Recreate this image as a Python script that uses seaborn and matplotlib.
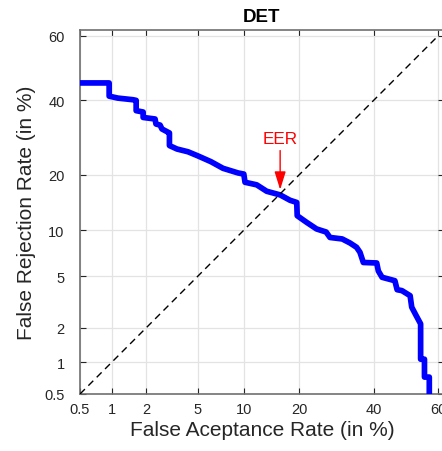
import math
import numpy as np
import pandas as pd
import seaborn as sns
import matplotlib
matplotlib.use('Agg')
import matplotlib.pyplot as plt

# DET curve (percent)
far = [0.5, 0.95, 0.95, 1.14, 1.55, 1.65, 1.65, 1.89, 1.89, 2.37, 2.41, 2.60, 2.69, 3.0,
       3.08, 3.08, 3.52, 4.25, 5.02, 6.17, 7.41, 9.22, 10.0, 10.17, 11.9, 13.56, 16.0, 17.97,
       19.4, 19.5, 21.6, 24.0, 26.4, 27.4, 30.7, 32.9, 34.8, 35.8, 36.8, 40.85, 41.35, 42.5,
       46.5, 47.2, 48.7, 51.3, 51.8, 53.2, 54.6, 54.6, 55.8, 55.8, 57.3, 57.3]
frr = [45.3, 45.3, 41.2, 40.6, 40.1, 39.9, 36.8, 36.4, 34.8, 34.35, 32.9, 32.6, 31.5, 30.6,
       30.4, 27.0, 26.1, 25.4, 24.35, 22.95, 21.4, 20.35, 20.1, 18.33, 17.8, 16.5, 15.8, 14.8,
       14.4, 12.16, 11.14, 10.17, 9.75, 9.03, 8.84, 8.34, 7.83, 7.27, 6.22, 6.17, 5.44, 4.91,
       4.64, 3.99, 3.93, 3.6, 2.94, 2.52, 2.16, 1.07, 1.07, 0.73, 0.73, 0.3]
diag = [0.5, 60]
eer = 16.0
ticks = [0.5, 1, 2, 5, 10, 20, 40, 60]
tick_labels = ['0.5', '1', '2', '5', '10', '20', '40', '60']

# normal deviate (probit) scale, Acklam approximation
A = [-3.969683028665376e+01, 2.209460984245205e+02, -2.759285104469687e+02,
     1.383577518672690e+02, -3.066479806614716e+01, 2.506628277459239e+00]
B = [-5.447609879822406e+01, 1.615858368580409e+02, -1.556989798598866e+02,
     6.680131188771972e+01, -1.328068155288572e+01]
C = [-7.784894002430293e-03, -3.223964580411365e-01, -2.400758277161838e+00,
     -2.549732539343734e+00, 4.374664141464968e+00, 2.938163982698783e+00]
D = [7.784695709041462e-03, 3.224671290700398e-01, 2.445134137142996e+00,
     3.754408661907416e+00]


def ppf(p):
    p = np.clip(np.asarray(p, dtype=float), 1e-10, 1 - 1e-10)
    q = p - 0.5
    r = q * q
    central = (((((A[0]*r + A[1])*r + A[2])*r + A[3])*r + A[4])*r + A[5]) * q / \
              (((((B[0]*r + B[1])*r + B[2])*r + B[3])*r + B[4])*r + 1)
    ql = np.sqrt(-2 * np.log(np.minimum(p, 1 - p)))
    tail = (((((C[0]*ql + C[1])*ql + C[2])*ql + C[3])*ql + C[4])*ql + C[5]) / \
           ((((D[0]*ql + D[1])*ql + D[2])*ql + D[3])*ql + 1)
    tail = np.where(p < 0.5, tail, -tail)
    return np.where((p >= 0.02425) & (p <= 1 - 0.02425), central, tail)


_cdf = np.vectorize(lambda z: 0.5 * math.erfc(-z / math.sqrt(2)))


def forward(x):
    return ppf(np.asarray(x, dtype=float) / 100.0)


def inverse(z):
    return 100.0 * _cdf(np.asarray(z, dtype=float))


sns.set_theme(style='ticks')
plt.rcParams['font.family'] = ['Liberation Sans', 'DejaVu Sans']

df = pd.DataFrame({'far': far, 'frr': frr})

fig = plt.figure(figsize=(4.42, 4.52), dpi=100)
ax = fig.add_axes([80 / 442, 57 / 452, 364 / 442, 364 / 452])

sns.lineplot(data=df, x='far', y='frr', sort=False, estimator=None,
             color='#0000ff', lw=4.1, ax=ax, zorder=3)
ax.plot(diag, diag, color='black', lw=1.0, dashes=(5, 3.5), zorder=4)

ax.set_xscale('function', functions=(forward, inverse))
ax.set_yscale('function', functions=(forward, inverse))
ax.set_xlim(0.5, 61.8)
ax.set_ylim(0.5, 61.8)
ax.set_xticks(ticks)
ax.set_xticklabels(tick_labels)
ax.set_yticks(ticks)
ax.set_yticklabels(tick_labels)
ax.minorticks_off()

ax.grid(True, color='#e3e3e3', lw=0.9)
ax.set_axisbelow(True)
for s in ax.spines.values():
    s.set_color('#707070')
    s.set_linewidth(1.2)
ax.tick_params(axis='both', direction='in', length=4, width=0.8, color='#262626',
               labelsize=10.5, labelcolor='#262626', top=True, right=True)
ax.tick_params(axis='x', pad=6)
ax.tick_params(axis='y', pad=11)

ax.set_xlabel('False Aceptance Rate (in %)', fontsize=15, color='#262626', labelpad=3)
ax.set_ylabel('False Rejection Rate (in %)', fontsize=15, color='#262626', labelpad=6)
ax.set_title('DET', fontsize=13.5, fontweight='bold', color='black', pad=6.5)

ax.annotate('EER', xy=(eer, eer), xytext=(eer, 27.7), textcoords='data',
            ha='center', va='baseline', color='red', fontsize=12.3,
            arrowprops=dict(arrowstyle='-|>,head_length=0.9,head_width=0.28',
                            color='red', lw=1.0, shrinkA=1, shrinkB=3),
            zorder=5)

fig.savefig('out.png', dpi=100)
